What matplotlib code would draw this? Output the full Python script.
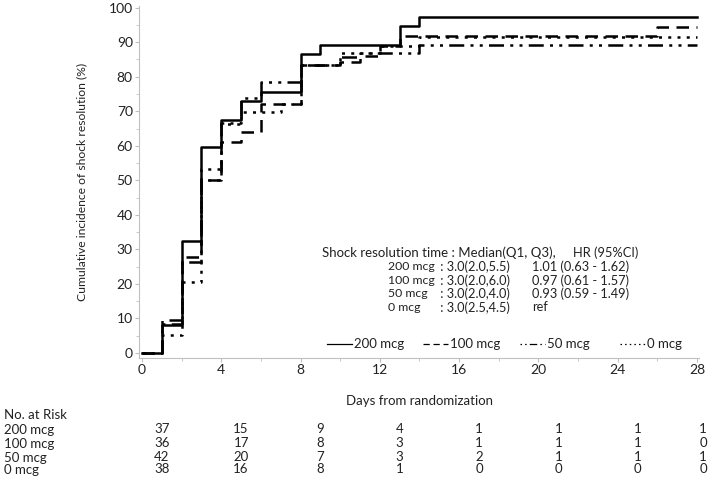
import matplotlib.pyplot as plt
from matplotlib.lines import Line2D
from matplotlib.ticker import MultipleLocator
import matplotlib.transforms as mtransforms

plt.rcParams['font.family'] = ['Lato', 'DejaVu Sans']
plt.rcParams['font.size'] = 9

# cumulative incidence curves (step after)
days_200 = [0, 1, 2, 3, 4, 5, 6, 8, 9, 13, 14, 28]
inc_200 = [0, 8.1, 32.4, 59.5, 67.6, 73.0, 75.7, 86.5, 89.2, 94.6, 97.3, 97.3]

days_100 = [0, 1, 2, 3, 4, 5, 6, 8, 10, 11, 12, 13, 26, 28]
inc_100 = [0, 9.4, 27.8, 50.0, 61.1, 63.9, 72.2, 83.3, 84.3, 86.1, 88.9, 91.7, 94.4, 94.4]

days_50 = [0, 1, 2, 3, 4, 5, 6, 8, 10, 11, 14, 28]
inc_50 = [0, 8.3, 26.2, 50.0, 66.7, 73.8, 78.6, 83.3, 85.7, 86.9, 89.3, 89.3]

days_0 = [0, 1, 2, 3, 4, 5, 7, 8, 10, 12, 14, 28]
inc_0 = [0, 5.3, 20.6, 53.3, 66.2, 69.7, 72.0, 83.5, 86.8, 88.9, 91.6, 91.6]

groups = ['200 mcg', '100 mcg', '50 mcg', '0 mcg']
medians = [': 3.0(2.0,5.5)', ': 3.0(2.0,6.0)', ': 3.0(2.0,4.0)', ': 3.0(2.5,4.5)']
hrs = ['1.01 (0.63 - 1.62)', '0.97 (0.61 - 1.57)', '0.93 (0.59 - 1.49)', 'ref']

risk_days = [0, 4, 8, 12, 16, 20, 24, 28]
risk_200 = [37, 15, 9, 4, 1, 1, 1, 1]
risk_100 = [36, 17, 8, 3, 1, 1, 1, 0]
risk_50 = [42, 20, 7, 3, 2, 1, 1, 1]
risk_0 = [38, 16, 8, 1, 0, 0, 0, 0]

styles = ['-', (0, (5, 3)), (0, (1.2, 2.5, 1.2, 2.5, 6, 2.5)), (0, (1.2, 2.5))]
txt = '#222222'

W, H = 708, 479
fig = plt.figure(figsize=(W / 100, H / 100), dpi=100)
ax = fig.add_axes([139 / W, 1 - 358 / H, 560 / W, (358 - 6) / H])

curves = [(days_200, inc_200), (days_100, inc_100), (days_50, inc_50), (days_0, inc_0)]
for (d, v), ls, g in zip(curves, styles, groups):
    ax.step(d, v, where='post', color='black', lw=1.8, linestyle=ls, label=g)

ax.set_xlim(-0.15, 28.1)
ax.set_ylim(-1.5, 100.5)
ax.xaxis.set_major_locator(MultipleLocator(4))
ax.xaxis.set_minor_locator(MultipleLocator(2))
ax.yaxis.set_major_locator(MultipleLocator(10))
ax.yaxis.set_minor_locator(MultipleLocator(5))
for s in ['top', 'right']:
    ax.spines[s].set_visible(False)
for s in ['left', 'bottom']:
    ax.spines[s].set_color('#c0c0c0')
ax.tick_params(which='both', color='#c0c0c0', labelcolor=txt, labelsize=10)
ax.tick_params(which='major', length=3, pad=1.5)
ax.tick_params(which='minor', length=2)

ax.set_ylabel('Cumulative incidence of shock resolution (%)', fontsize=8.7, color=txt)
ax.yaxis.set_label_coords(-0.093, 0.5)
ax.set_xlabel('Days from randomization', fontsize=9.5, color=txt)
ax.xaxis.set_label_coords(0.5, -0.105)

# summary text (positions in data units)
def px_x(p):
    return (p - 142) / 19.82

def px_y(p):
    return (353 - p) / 3.45

ax.text(px_x(322), px_y(253), 'Shock resolution time : Median(Q1, Q3),', va='center', fontsize=9.5, color=txt)
ax.text(px_x(573), px_y(253), 'HR (95%CI)', va='center', fontsize=9.3, color=txt)
for i, (g, m, h) in enumerate(zip(groups, medians, hrs)):
    y = px_y(267 + i * 13.5)
    ax.text(px_x(388), y, g, va='center', fontsize=8.8, color=txt)
    ax.text(px_x(437), y, ' ' + m, va='center', fontsize=9.2, color=txt)
    ax.text(px_x(532), y, h, va='center', fontsize=9.2, color=txt)

# legend, four evenly spaced keys
leg_x = [327, 423, 520, 620]
leg_y = 1 - 344 / H
for x0, ls, g in zip(leg_x, styles, groups):
    fig.add_artist(Line2D([x0 / W, (x0 + 25) / W], [leg_y, leg_y], transform=fig.transFigure,
                          color='black', lw=0.9, linestyle=ls))
    fig.text((x0 + 27) / W, leg_y, g, va='center', fontsize=9.5, color=txt)

# number at risk table
tr = mtransforms.blended_transform_factory(ax.transData, fig.transFigure)
fig.text(4 / W, 1 - 415 / H, 'No. at Risk', va='center', fontsize=9.5, color=txt)
rows = [risk_200, risk_100, risk_50, risk_0]
row_y = [430, 444, 458, 470]
for g, r, yp in zip(groups, rows, row_y):
    fig.text(4 / W, 1 - yp / H, g, va='center', fontsize=9.5, color=txt)
    for d, n in zip(risk_days, r):
        ax.text(min(d + 1.0, 28.3), 1 - (yp - 1) / H, str(n), transform=tr, ha='center',
                va='center', fontsize=9.5, color=txt, clip_on=False)

fig.savefig('out.png', dpi=100)
